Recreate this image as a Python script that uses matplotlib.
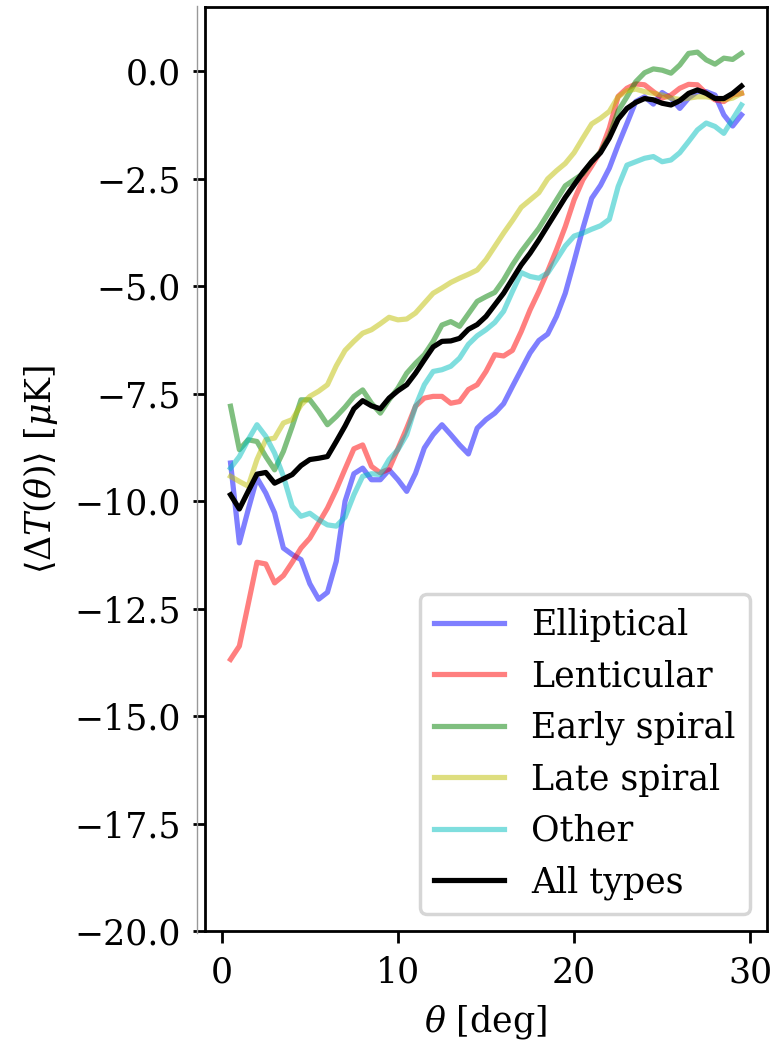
import numpy as np
import matplotlib
matplotlib.use("Agg")
import matplotlib.pyplot as plt
from matplotlib.lines import Line2D

theta = np.arange(0.5, 29.51, 0.5)

elliptical = [-9.11, -10.97, -10.20, -9.46, -9.81, -10.27, -11.09, -11.24, -11.36, -11.92,
              -12.28, -12.12, -11.40, -10.00, -9.36, -9.23, -9.50, -9.50, -9.27, -9.50,
              -9.77, -9.35, -8.76, -8.45, -8.22, -8.45, -8.69, -8.90, -8.30, -8.10,
              -7.95, -7.73, -7.33, -6.94, -6.55, -6.26, -6.11, -5.70, -5.16, -4.42,
              -3.65, -2.95, -2.65, -2.25, -1.71, -1.21, -0.70, -0.59, -0.76, -0.49,
              -0.62, -0.86, -0.62, -0.47, -0.47, -0.55, -1.01, -1.27, -1.01]

lenticular = [-13.68, -13.37, -12.40, -11.42, -11.46, -11.90, -11.73, -11.42, -11.09, -10.86,
              -10.51, -10.16, -9.73, -9.25, -8.78, -8.69, -9.19, -9.34, -9.25, -8.78,
              -8.30, -7.79, -7.60, -7.56, -7.56, -7.72, -7.68, -7.40, -7.29, -6.98,
              -6.59, -6.62, -6.49, -6.05, -5.55, -5.12, -4.65, -4.15, -3.61, -2.99,
              -2.52, -2.20, -1.86, -1.32, -0.58, -0.39, -0.29, -0.31, -0.47, -0.62,
              -0.55, -0.39, -0.30, -0.31, -0.51, -0.66, -0.70, -0.55, -0.51]

early_spiral = [-7.79, -8.80, -8.57, -8.61, -8.96, -9.27, -8.84, -8.26, -7.64, -7.64,
                -7.91, -8.22, -8.03, -7.81, -7.56, -7.41, -7.72, -7.95, -7.64, -7.37,
                -7.02, -6.79, -6.59, -6.28, -5.90, -5.82, -5.93, -5.64, -5.35, -5.24,
                -5.14, -4.85, -4.50, -4.19, -3.92, -3.65, -3.32, -2.99, -2.66, -2.52,
                -2.38, -2.10, -1.87, -1.50, -0.92, -0.59, -0.24, -0.03, 0.06, 0.03,
                -0.04, 0.15, 0.42, 0.45, 0.27, 0.17, 0.31, 0.28, 0.42]

late_spiral = [-9.42, -9.54, -9.65, -9.03, -8.57, -8.53, -8.18, -8.10, -7.76, -7.56,
               -7.44, -7.29, -6.85, -6.49, -6.28, -6.09, -6.01, -5.87, -5.72, -5.78,
               -5.76, -5.62, -5.39, -5.16, -5.04, -4.91, -4.81, -4.72, -4.62, -4.38,
               -4.07, -3.76, -3.47, -3.16, -2.99, -2.82, -2.50, -2.31, -2.14, -1.89,
               -1.55, -1.22, -1.09, -0.93, -0.59, -0.45, -0.41, -0.47, -0.51, -0.55,
               -0.62, -0.65, -0.62, -0.59, -0.59, -0.62, -0.66, -0.62, -0.51]

other = [-9.23, -8.96, -8.57, -8.22, -8.49, -8.88, -9.42, -10.12, -10.35, -10.28,
         -10.43, -10.55, -10.58, -10.37, -9.85, -9.42, -9.36, -9.38, -9.03, -8.80,
         -8.45, -7.79, -7.29, -6.98, -6.94, -6.86, -6.67, -6.35, -6.15, -6.01,
         -5.84, -5.58, -5.12, -4.68, -4.77, -4.81, -4.69, -4.38, -4.06, -3.83,
         -3.76, -3.67, -3.59, -3.44, -2.68, -2.18, -2.10, -2.02, -1.98, -2.10,
         -2.06, -1.89, -1.63, -1.36, -1.20, -1.28, -1.44, -1.11, -0.78]

all_types = [-9.85, -10.18, -9.77, -9.37, -9.33, -9.58, -9.48, -9.38, -9.17, -9.03,
             -9.00, -8.96, -8.61, -8.25, -7.85, -7.66, -7.78, -7.85, -7.60, -7.43,
             -7.29, -7.02, -6.71, -6.41, -6.28, -6.27, -6.21, -6.00, -5.89, -5.70,
             -5.43, -5.16, -4.83, -4.50, -4.23, -3.92, -3.59, -3.26, -2.93, -2.64,
             -2.35, -2.10, -1.89, -1.55, -1.11, -0.86, -0.72, -0.63, -0.66, -0.74,
             -0.78, -0.68, -0.51, -0.43, -0.51, -0.63, -0.63, -0.51, -0.34]

labels = ["Elliptical", "Lenticular", "Early spiral", "Late spiral", "Other", "All types"]
series = [elliptical, lenticular, early_spiral, late_spiral, other, all_types]
colors = ["b", "r", "g", "y", "c", "k"]
alphas = [0.5, 0.5, 0.5, 0.5, 0.5, 1.0]

plt.rcParams["font.family"] = ["DejaVu Serif"]
plt.rcParams["mathtext.fontset"] = "dejavuserif"

DPI = 250
fig = plt.figure(figsize=(776 / DPI, 1040 / DPI), dpi=DPI)
ax = fig.add_axes([205 / 776, 1 - 931 / 1040, (767 - 205) / 776, (931 - 7) / 1040])

for lab, s, c, a in zip(labels, series, colors, alphas):
    ax.plot(theta, s, color=c, alpha=a, lw=1.5, label=lab)

ax.set_ylim(-20, 1.5)
ax.set_yticks(np.arange(-20, 0.1, 2.5))
ax.set_xticks([0, 10, 20, 30])
ax.set_xlabel(r"$\theta$ [deg]")
ax.set_ylabel(r"$\langle\Delta T(\theta)\rangle$ [$\mu$K]")
ax.legend(loc="lower right")

fig.add_artist(Line2D([197 / 776, 197 / 776], [1 - 933 / 1040, 1 - 6 / 1040],
                      transform=fig.transFigure, color="#999999", lw=0.4))

fig.savefig("out.png", dpi=DPI)
